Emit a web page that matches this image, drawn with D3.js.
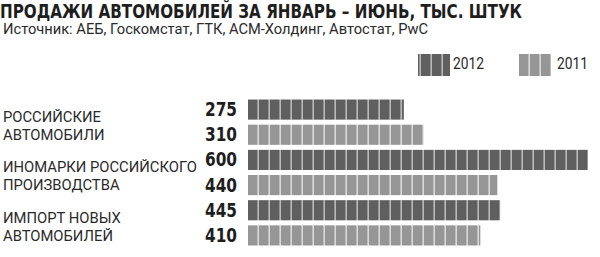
<!DOCTYPE html>
<html lang="ru">

<head>
    <meta charset="UTF-8">
    <title>Продажи автомобилей</title>
    <style>
        body { margin: 0; background: #fff; }
        svg { display: block; }
    </style>
</head>

<body>
    <script src="https://d3js.org/d3.v7.min.js"></script>
    <script>
        // data
        const categories = [
            ["РОССИЙСКИЕ", "АВТОМОБИЛИ"],
            ["ИНОМАРКИ РОССИЙСКОГО", "ПРОИЗВОДСТВА"],
            ["ИМПОРТ НОВЫХ", "АВТОМОБИЛЕЙ"]
        ];
        const years = ["2012", "2011"];
        const values2012 = [275, 600, 445];
        const values2011 = [310, 440, 410];

        const width = 600;
        const height = 257;
        const colors = { "2012": "#5f5f5f", "2011": "#969696" };
        const sepColors = { "2012": "#b9b9b9", "2011": "#d9d9d9" };
        const segW = 11;
        const barX0 = 248;

        // one row per bar
        let rows = [];
        categories.forEach((c, i) => {
            rows.push({ key: i + "-2012", cat: i, year: "2012", value: values2012[i] });
            rows.push({ key: i + "-2011", cat: i, year: "2011", value: values2011[i] });
        });

        const svg = d3.select("body").append("svg")
            .attr("width", width)
            .attr("height", height);

        const defs = svg.append("defs");
        function makePattern(id, year, originX) {
            let p = defs.append("pattern")
                .attr("id", id)
                .attr("patternUnits", "userSpaceOnUse")
                .attr("x", originX)
                .attr("y", 0)
                .attr("width", segW)
                .attr("height", 300);
            p.append("rect").attr("width", segW).attr("height", 300).attr("fill", colors[year]);
            p.append("rect").attr("x", segW - 1.6).attr("width", 1.6).attr("height", 300).attr("fill", sepColors[year]);
        }
        makePattern("pat2012", "2012", barX0);
        makePattern("pat2011", "2011", barX0);
        makePattern("leg2012", "2012", 410);
        makePattern("leg2011", "2011", 519);

        let x = d3.scaleLinear()
            .domain([0, 600])
            .range([barX0, 588]);

        let y = d3.scaleBand()
            .domain(rows.map(d => d.key))
            .range([97, 248])
            .paddingInner(0.2)
            .paddingOuter(0.1);

        // title
        svg.append("text")
            .attr("x", 0)
            .attr("y", 18)
            .attr("font-family", "'DejaVu Sans Condensed', 'DejaVu Sans', sans-serif")
            .attr("font-weight", "bold")
            .attr("font-size", 19)
            .attr("fill", "#1e1e1e")
            .attr("textLength", 522)
            .attr("lengthAdjust", "spacingAndGlyphs")
            .text("ПРОДАЖИ АВТОМОБИЛЕЙ ЗА ЯНВАРЬ – ИЮНЬ, ТЫС. ШТУК");

        svg.append("text")
            .attr("x", 3)
            .attr("y", 34)
            .attr("font-family", "Roboto, sans-serif")
            .attr("font-size", 14.5)
            .attr("fill", "#2a2a2a")
            .attr("textLength", 425)
            .attr("lengthAdjust", "spacingAndGlyphs")
            .text("Источник: АЕБ, Госкомстат, ГТК, АСМ-Холдинг, Автостат, PwC");

        // legend
        const legend = [
            { year: "2012", x: 418, tx: 453 },
            { year: "2011", x: 519, tx: 557 }
        ];
        let lg = svg.selectAll(".legend")
            .data(legend)
            .enter()
            .append("g")
            .attr("class", "legend");
        lg.append("rect")
            .attr("x", d => d.x)
            .attr("y", 54)
            .attr("width", 32)
            .attr("height", 22)
            .attr("fill", d => "url(#leg" + d.year + ")");
        lg.append("text")
            .attr("x", d => d.tx)
            .attr("y", 69)
            .attr("font-family", "Roboto, sans-serif")
            .attr("font-size", 16)
            .attr("fill", "#2a2a2a")
            .attr("textLength", 31)
            .attr("lengthAdjust", "spacingAndGlyphs")
            .text(d => d.year);

        // bars
        svg.selectAll(".bar")
            .data(rows)
            .enter()
            .append("rect")
            .attr("class", "bar")
            .attr("x", x(0))
            .attr("y", d => y(d.key))
            .attr("width", d => x(d.value) - x(0))
            .attr("height", y.bandwidth())
            .attr("fill", d => "url(#pat" + d.year + ")");

        // values
        svg.selectAll(".val")
            .data(rows)
            .enter()
            .append("text")
            .attr("class", "val")
            .attr("x", 237)
            .attr("y", d => y(d.key) + y.bandwidth() / 2 + 6.5)
            .attr("text-anchor", "end")
            .attr("font-family", "'DejaVu Sans Condensed', 'DejaVu Sans', sans-serif")
            .attr("font-weight", "bold")
            .attr("font-size", 19.5)
            .attr("fill", "#1e1e1e")
            .attr("textLength", 32)
            .attr("lengthAdjust", "spacingAndGlyphs")
            .text(d => d.value);

        // category labels, two lines each
        let labels = svg.append("g").attr("class", "labels");
        categories.forEach((lines, i) => {
            let top = y(i + "-2012");
            let bottom = y(i + "-2011") + y.bandwidth();
            let mid = (top + bottom) / 2;
            labels.selectAll(null)
                .data(lines)
                .enter()
                .append("text")
                .attr("x", 3)
                .attr("y", (d, j) => mid + j * 18)
                .attr("font-family", "Roboto, sans-serif")
                .attr("font-size", 15.5)
                .attr("fill", "#2a2a2a")
                .text(d => d);
        });

        // squeeze labels so the widest line fits its place
        let widest = d3.max(labels.selectAll("text").nodes(), n => n.getComputedTextLength());
        let k = 194 / widest;
        labels.selectAll("text")
            .attr("transform", function () {
                return `translate(${3 - 3 * k},0) scale(${k},1)`;
            });
    </script>
</body>

</html>
